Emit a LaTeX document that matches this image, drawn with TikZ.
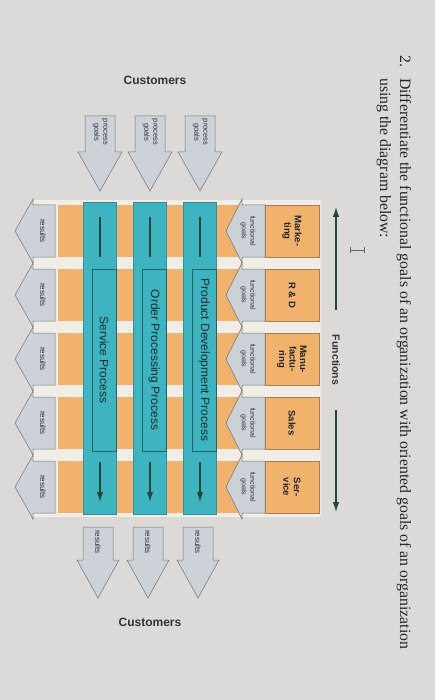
\documentclass[tikz,border=0pt]{standalone}
\usepackage{fontspec}
\setmainfont{Liberation Sans}
\newfontfamily\questfont{Liberation Serif}
\usetikzlibrary{arrows.meta}

\definecolor{paper}{HTML}{DCDAD8}
\definecolor{cream}{HTML}{EFEDE5}
\definecolor{band}{HTML}{F0B26C}
\definecolor{proc}{HTML}{3DB4BF}
\definecolor{goal}{HTML}{CDD2D9}
\definecolor{ink}{HTML}{1F4A3A}

\tikzset{
  goalarrow/.style={fill=goal, draw=goal!55!black, line width=.5pt},
  goaltext/.style={rotate=-90, align=center, inner sep=0pt, text=black!80},
  funbox/.style={rotate=-90, fill=band, draw=band!70!black, line width=.5pt,
    minimum width=52pt, minimum height=54pt, align=center,
    font=\bfseries\fontsize{9.5}{10.5}\selectfont, text=black!85},
  procstrip/.style={fill=proc, draw=proc!80!black, line width=.4pt},
  proclabel/.style={rotate=-90, draw=proc!55!black, line width=.5pt,
    minimum width=182pt, minimum height=24.5pt, inner sep=0pt,
    font=\fontsize{12}{13}\selectfont, text=proc!25!black},
  procline/.style={ink, line width=1.2pt},
  tip/.style={-{Latex[length=10pt,width=6.5pt]}},
}

\begin{document}
\begin{tikzpicture}[x=1pt, y=-1pt]
\useasboundingbox (0,0) rectangle (435,700);
\fill[paper] (0,0) rectangle (435,700);

% question
\node[rotate=-90, anchor=base west, inner sep=0pt, font=\questfont\fontsize{15.8}{18}\selectfont, text=black!85] (qnum) at (400,55) {2.};
\node[rotate=-90, anchor=base west, inner sep=0pt, font=\questfont\fontsize{15.8}{18}\selectfont, text=black!85] (qa) at (400,78) {Differentiate the functional goals of an organization with oriented goals of an organization};
\node[rotate=-90, anchor=base west, inner sep=0pt, font=\questfont\fontsize{15.8}{18}\selectfont, text=black!85] (qb) at (380,78) {using the diagram below:};

% functions axis
\node[rotate=-90, inner xsep=25pt, font=\bfseries\fontsize{10.5}{12}\selectfont, text=black!80] (func) at (336,360) {Functions};
\coordinate (functop) at (336,207);
\coordinate (funcbot) at (336,512);
\draw[procline, tip] (func) -- (functop);
\draw[procline, tip] (func) -- (funcbot);
\draw[black!60, line width=.7pt] (350,247) -- (350,253) (350,250) -- (364,250) (364,247) -- (364,253);

\node[font=\bfseries\fontsize{12}{14}\selectfont, text=black!80] (custin) at (155,80) {Customers};
\node[font=\bfseries\fontsize{12}{14}\selectfont, text=black!80] (custout) at (150,622) {Customers};

\fill[cream] (33,200) rectangle (321,517);

% function rows
\foreach \fname [count=\i from 0] in {{Marke-\\ting},{R \& D},{Manu-\\factu-\\ring},{Sales},{Ser-\\vice}} {
  \pgfmathsetmacro\rowtop{205+64*\i}
  \pgfmathsetmacro\rowbot{\rowtop+52}
  \pgfmathsetmacro\rowmid{\rowtop+26}
  \fill[band] (58,\rowtop) rectangle (244,\rowbot);
  \node[funbox] (fn\i) at (292,\rowmid) {\fname};
}

% process strips
\foreach \cx/\pname [count=\j] in {200/Product Development Process, 150/Order Processing Process, 100/Service Process} {
  \filldraw[procstrip] (\cx-16.5,202) rectangle (\cx+16.5,514);
  \node[proclabel] (pl\j) at (\cx+4.25,360) {\pname};
  \coordinate (pa\j) at (\cx,217);
  \coordinate (pb\j) at (\cx,257);
  \coordinate (pc\j) at (\cx,462);
  \coordinate (pd\j) at (\cx,502);
  \draw[procline] (pa\j) -- (pb\j);
  \draw[procline, tip] (pc\j) -- (pd\j);
  \filldraw[goalarrow] (\cx-15,116) -- (\cx+15,116) -- (\cx+15,152) -- (\cx+22,152) -- (\cx,191) -- (\cx-22,152) -- (\cx-15,152) -- cycle;
  \node[goaltext, font=\fontsize{7.5}{9}\selectfont] (pg\j) at (\cx,132) {process\\goals};
  \filldraw[goalarrow] (\cx-17,527) -- (\cx+13,527) -- (\cx+13,560) -- (\cx+19,560) -- (\cx-2,598) -- (\cx-23,560) -- (\cx-17,560) -- cycle;
  \node[goaltext, font=\fontsize{8}{9}\selectfont] (rd\j) at (\cx-2,542) {results};
}

% goal and result arrows of the rows
\foreach \i in {0,...,4} {
  \pgfmathsetmacro\rowtop{205+64*\i}
  \pgfmathsetmacro\rowbot{\rowtop+52}
  \pgfmathsetmacro\rowmid{\rowtop+26}
  \filldraw[goalarrow] (265,\rowtop) -- (242,\rowtop) -- (242,\rowtop-6) -- (226,\rowmid) -- (242,\rowbot+6) -- (242,\rowbot) -- (265,\rowbot) -- cycle;
  \node[goaltext, font=\fontsize{7}{8.5}\selectfont] (fg\i) at (248,\rowmid) {functional\\goals};
  \filldraw[goalarrow] (55,\rowtop) -- (33,\rowtop) -- (33,\rowtop-6) -- (15,\rowmid) -- (33,\rowbot+6) -- (33,\rowbot) -- (55,\rowbot) -- cycle;
  \node[goaltext, font=\fontsize{8}{9}\selectfont] (rl\i) at (43,\rowmid) {results};
}
\end{tikzpicture}
\end{document}
